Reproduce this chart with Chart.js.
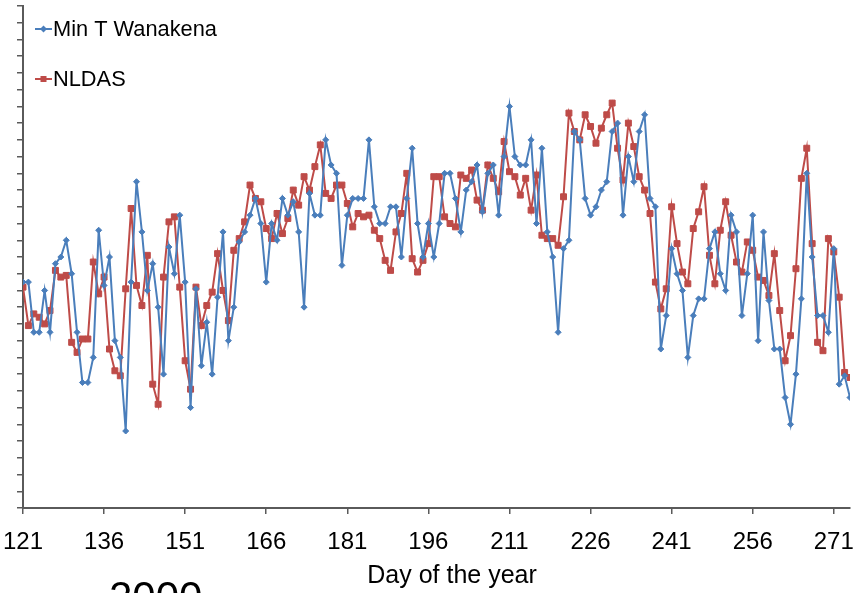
<!DOCTYPE html>
<html>
<head>
<meta charset="utf-8">
<title>Min T Wanakena vs NLDAS</title>
<style>
  html, body { margin: 0; padding: 0; background: #ffffff; }
  #wrap { width: 864px; height: 593px; position: relative; overflow: hidden; }
</style>
</head>
<body>
<div id="wrap"><canvas id="chart" width="864" height="593"></canvas></div>
<script src="https://cdn.jsdelivr.net/npm/chart.js@4.4.1/dist/chart.umd.min.js"></script>
<script>
// Daily minimum temperature, day of year 121 to 274 (year 2000)
const firstDay = 121;
const tickDays = [121, 136, 151, 166, 181, 196, 211, 226, 241, 256, 271];

const minTWanakena = [
  8.5, 8.5, 5.5, 5.5, 8.0, 5.5, 9.6, 10.0, 11.0, 9.0,
  5.5, 2.5, 2.5, 4.0, 11.6, 8.3, 10.0, 5.0, 4.0, -0.4,
  8.5, 14.5, 11.5, 8.0, 9.6, 7.0, 3.0, 10.6, 9.0, 12.5,
  8.5, 1.0, 8.1, 3.5, 6.1, 3.0, 7.6, 11.5, 5.0, 7.0,
  10.9, 11.5, 12.5, 13.5, 12.0, 8.5, 12.0, 11.0, 13.5, 12.5,
  13.3, 11.5, 7.0, 13.8, 12.5, 12.5, 17.0, 15.5, 15.0, 9.5,
  12.5, 13.5, 13.5, 13.5, 17.0, 13.0, 12.0, 12.0, 13.0, 13.0,
  10.0, 13.5, 16.5, 12.0, 10.0, 12.0, 10.0, 12.0, 15.0, 15.0,
  13.5, 11.5, 14.0, 14.5, 15.5, 12.7, 15.0, 15.5, 12.5, 16.0,
  19.0, 16.0, 15.5, 15.5, 17.0, 12.0, 16.5, 11.5, 10.0, 5.5,
  10.5, 11.0, 17.5, 17.0, 13.5, 12.5, 13.0, 14.0, 14.5, 17.5,
  18.0, 12.5, 16.0, 14.5, 17.5, 18.5, 13.5, 13.0, 4.5, 6.5,
  10.5, 9.0, 8.0, 4.0, 6.5, 7.5, 7.5, 10.5, 11.5, 9.0,
  8.0, 12.5, 11.5, 6.5, 9.0, 12.5, 5.0, 11.5, 7.4, 4.5,
  4.5, 1.6, 0.0, 3.0, 7.5, 15.0, 10.0, 6.5, 6.5, 5.5,
  10.5, 2.4, 2.9, 1.6
];

const nldas = [
  8.2, 5.9, 6.6, 6.4, 6.0, 6.8, 9.2, 8.8, 8.9, 4.9,
  4.3, 5.1, 5.1, 9.7, 7.8, 8.8, 4.5, 3.2, 2.9, 8.1,
  12.9, 8.3, 7.1, 10.1, 2.4, 1.2, 8.8, 12.1, 12.4, 8.2,
  3.8, 2.1, 8.2, 5.9, 7.1, 7.9, 10.2, 8.0, 6.2, 10.4,
  11.1, 12.1, 14.3, 13.5, 13.3, 11.7, 11.1, 12.6, 11.4, 12.3,
  14.0, 13.1, 14.8, 14.0, 15.4, 16.7, 13.8, 13.5, 14.3, 14.3,
  13.2, 11.8, 12.6, 12.4, 12.5, 11.6, 11.1, 9.8, 9.2, 11.5,
  12.6, 15.0, 9.9, 9.1, 9.8, 10.8, 14.8, 14.8, 12.4, 12.0,
  11.8, 14.9, 14.7, 15.2, 13.4, 12.8, 15.5, 14.7, 13.9, 16.9,
  15.1, 14.8, 13.7, 14.7, 12.8, 14.9, 11.3, 11.1, 11.1, 10.7,
  13.6, 18.6, 17.5, 17.0, 18.5, 17.8, 16.8, 17.7, 18.5, 19.2,
  16.5, 14.6, 18.0, 16.6, 14.8, 14.0, 12.6, 8.5, 6.9, 8.1,
  13.0, 10.8, 9.1, 8.4, 11.7, 12.7, 14.2, 10.1, 8.4, 11.6,
  13.3, 11.3, 9.7, 9.1, 10.9, 10.4, 8.8, 8.6, 7.7, 10.2,
  6.8, 3.8, 5.3, 9.3, 14.7, 16.5, 10.8, 4.9, 4.4, 11.1,
  10.3, 7.6, 3.1, 2.8
];

const days = minTWanakena.map((_, i) => firstDay + i);
const lastDay = days[days.length - 1];

const BLUE = '#4a7ebb';
const RED = '#be4b48';
const AXIS = '#5a5a5a';
const FONT = '"Liberation Sans", Arial, sans-serif';

const toPoints = (vals) => vals.map((v, i) => ({ x: days[i], y: v }));

// Legend, axis title and year label drawn straight onto the canvas
const annotations = {
  id: 'annotations',
  afterDraw(chart) {
    const ctx = chart.ctx;
    ctx.save();
    const items = [
      { ds: chart.data.datasets[0], y: 29 },
      { ds: chart.data.datasets[1], y: 79 }
    ];
    items.forEach(({ ds, y }) => {
      ctx.strokeStyle = ds.borderColor;
      ctx.lineWidth = 2;
      ctx.beginPath();
      ctx.moveTo(35, y);
      ctx.lineTo(52, y);
      ctx.stroke();
      ctx.fillStyle = ds.pointBackgroundColor;
      const cx = 43.5;
      if (ds.pointStyle === 'rect') {
        ctx.fillRect(cx - 3, y - 3, 6, 6);
      } else {
        ctx.beginPath();
        ctx.moveTo(cx, y - 3.5);
        ctx.lineTo(cx + 3.5, y);
        ctx.lineTo(cx, y + 3.5);
        ctx.lineTo(cx - 3.5, y);
        ctx.closePath();
        ctx.fill();
      }
      ctx.fillStyle = '#000000';
      ctx.font = '21.8px ' + FONT;
      ctx.textAlign = 'left';
      ctx.textBaseline = 'middle';
      ctx.fillText(ds.label, 53, y + 1);
    });

    ctx.fillStyle = '#000000';
    ctx.font = '25px ' + FONT;
    ctx.textAlign = 'center';
    ctx.textBaseline = 'middle';
    ctx.fillText('Day of the year', 452, 576);

    ctx.font = '42px ' + FONT;
    ctx.textAlign = 'left';
    ctx.textBaseline = 'alphabetic';
    ctx.fillText('2000', 109, 611);
    ctx.restore();
  }
};

new Chart(document.getElementById('chart'), {
  type: 'line',
  data: {
    datasets: [
      {
        label: 'Min T Wanakena',
        data: toPoints(minTWanakena),
        borderColor: BLUE,
        backgroundColor: BLUE,
        pointBackgroundColor: BLUE,
        pointBorderColor: BLUE,
        pointStyle: 'rectRot',
        pointRadius: 3,
        pointBorderWidth: 1,
        borderWidth: 2,
        tension: 0,
        order: 1
      },
      {
        label: 'NLDAS',
        data: toPoints(nldas),
        borderColor: RED,
        backgroundColor: RED,
        pointBackgroundColor: RED,
        pointBorderColor: RED,
        pointStyle: 'rect',
        pointRadius: 4.2,
        pointBorderWidth: 1,
        borderWidth: 2,
        tension: 0,
        order: 2
      }
    ]
  },
  options: {
    responsive: false,
    animation: false,
    devicePixelRatio: 1,
    layout: { padding: { top: 6, right: 14, left: 0, bottom: 0 } },
    plugins: {
      legend: { display: false },
      tooltip: { enabled: false }
    },
    scales: {
      x: {
        type: 'linear',
        min: firstDay,
        max: lastDay,
        afterBuildTicks: (scale) => { scale.ticks = tickDays.map(v => ({ value: v })); },
        afterFit: (scale) => {
          scale.height = 85;
          scale.paddingLeft = 0;
          scale.paddingRight = 0;
        },
        ticks: {
          autoSkip: false,
          maxRotation: 0,
          color: '#000000',
          padding: 14,
          font: { family: FONT, size: 24 }
        },
        grid: {
          drawOnChartArea: false,
          drawTicks: true,
          tickLength: 6,
          color: AXIS,
          lineWidth: 1.5
        },
        border: { display: true, color: AXIS, width: 2 }
      },
      y: {
        type: 'linear',
        min: -5,
        max: 25,
        afterFit: (scale) => {
          scale.width = 23;
          scale.paddingTop = 0;
          scale.paddingBottom = 0;
        },
        ticks: {
          stepSize: 1,
          autoSkip: false,
          padding: 0,
          font: { size: 6 },
          callback: () => ''
        },
        grid: {
          drawOnChartArea: false,
          drawTicks: true,
          tickLength: 6,
          color: AXIS,
          lineWidth: 1.5
        },
        border: { display: true, color: AXIS, width: 2 }
      }
    }
  },
  plugins: [annotations]
});
</script>
</body>
</html>
